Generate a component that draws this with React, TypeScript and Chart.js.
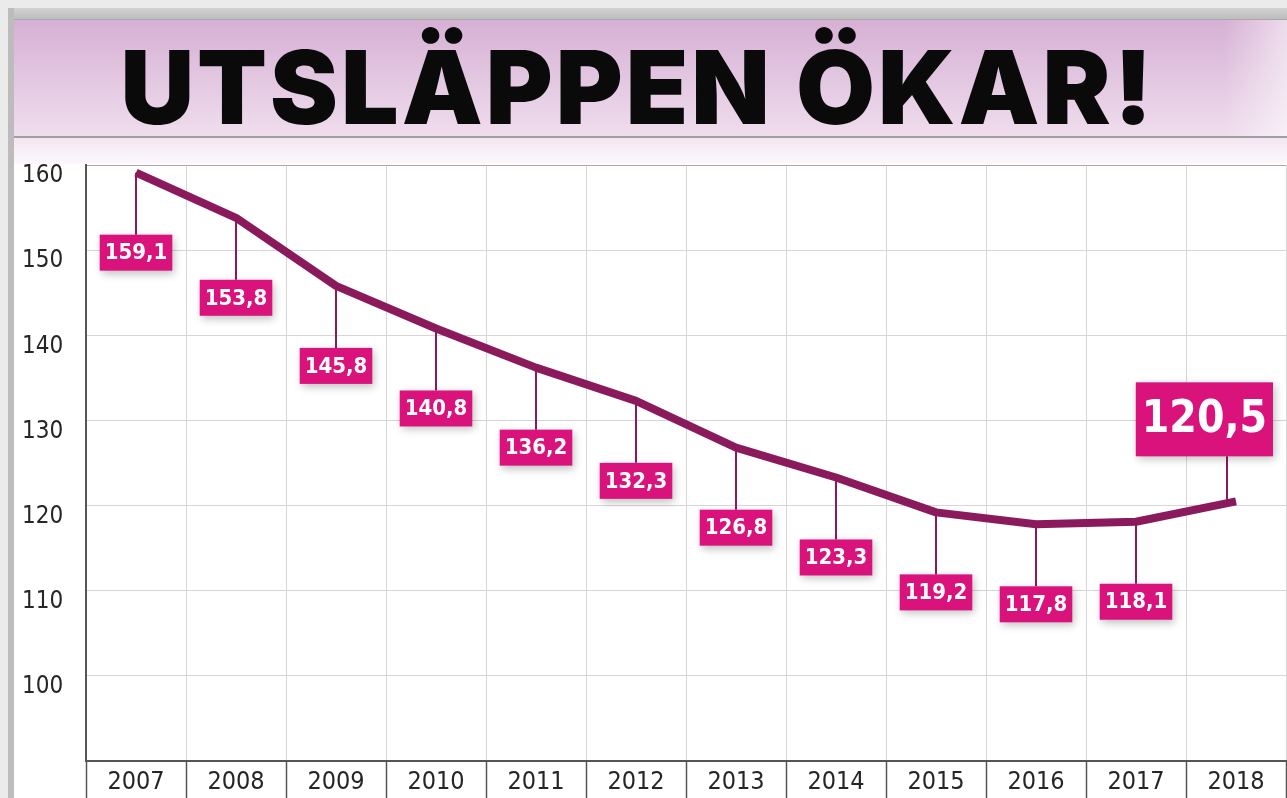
import React, { useEffect, useRef } from "react";
import { Chart, registerables } from "chart.js";

Chart.register(...registerables);

const TITLE = "UTSLÄPPEN ÖKAR!";
const years = ["2007", "2008", "2009", "2010", "2011", "2012", "2013", "2014", "2015", "2016", "2017", "2018"];
const emissions = [159.1, 153.8, 145.8, 140.8, 136.2, 132.3, 126.8, 123.3, 119.2, 117.8, 118.1, 120.5];
const valueLabels = ["159,1", "153,8", "145,8", "140,8", "136,2", "132,3", "126,8", "123,3", "119,2", "117,8", "118,1", "120,5"];
const yMin = 90;
const yMax = 160;
const yStep = 10;

const LINE_COLOR = "#8b1a5c";
const BOX_COLOR = "#d9127c";
const FONT = "'DejaVu Sans Condensed', 'DejaVu Sans', sans-serif";

const labelPlugin = {
  id: "valueBoxes",
  afterDatasetsDraw(chart: any) {
    const ctx = chart.ctx;
    const meta = chart.getDatasetMeta(0);
    const area = chart.chartArea;
    const last = meta.data.length - 1;
    meta.data.forEach((pt: any, i: number) => {
      const px = pt.x;
      const py = pt.y;
      const big = i === last;
      ctx.save();
      ctx.font = big ? `bold 44px ${FONT}` : `bold 22px ${FONT}`;
      const text = valueLabels[i];
      const tw = ctx.measureText(text).width;
      const bw = tw + (big ? 12 : 10);
      const bh = big ? 74 : 36;
      let bx = px - bw / 2;
      let by: number;
      if (big) {
        by = py - 45 - bh;
        if (bx + bw > area.right - 13) bx = area.right - 13 - bw;
      } else {
        by = py + 80 - bh / 2;
      }
      ctx.strokeStyle = LINE_COLOR;
      ctx.lineWidth = 2;
      ctx.beginPath();
      if (big) {
        ctx.moveTo(px - 9, by + bh);
        ctx.lineTo(px - 9, py);
      } else {
        ctx.moveTo(px, py);
        ctx.lineTo(px, by);
      }
      ctx.stroke();
      ctx.shadowColor = "rgba(0,0,0,0.25)";
      ctx.shadowBlur = 8;
      ctx.shadowOffsetX = 2;
      ctx.shadowOffsetY = 3;
      ctx.fillStyle = BOX_COLOR;
      ctx.fillRect(bx, by, bw, bh);
      ctx.shadowColor = "transparent";
      ctx.fillStyle = "#ffffff";
      ctx.textAlign = "center";
      ctx.textBaseline = "middle";
      ctx.fillText(text, bx + bw / 2, by + bh / 2 + 1);
      ctx.restore();
    });
  },
};

function ChartCanvas() {
  const ref = useRef<HTMLCanvasElement | null>(null);
  useEffect(() => {
    if (!ref.current) return;
    const chart = new Chart(ref.current, {
      type: "line",
      data: {
        labels: years,
        datasets: [
          {
            data: emissions,
            borderColor: LINE_COLOR,
            borderWidth: 8,
            tension: 0,
            pointRadius: 0,
            borderJoinStyle: "round",
            fill: false,
          },
        ],
      },
      options: {
        animation: false,
        responsive: false,
        maintainAspectRatio: false,
        layout: { padding: { top: 25, left: 10, right: 1, bottom: 0 } },
        plugins: { legend: { display: false }, tooltip: { enabled: false } },
        scales: {
          x: {
            offset: true,
            grid: {
              offset: true,
              color: "#d6d6d6",
              lineWidth: 1,
              drawTicks: true,
              tickLength: 37,
              tickColor: "#555555",
              tickWidth: 1.5,
            },
            border: { color: "#555555", width: 2 },
            ticks: {
              color: "#262626",
              font: { family: FONT, size: 25 },
              padding: -31,
              maxRotation: 0,
              autoSkip: false,
            },
            afterFit: (s: any) => {
              s.height = 37;
            },
          },
          y: {
            min: yMin,
            max: yMax,
            grid: {
              color: (c: any) => (c.tick && c.tick.value === yMax ? "#a8a8a8" : "#d6d6d6"),
              drawTicks: false,
            },
            border: { color: "#555555", width: 2 },
            ticks: {
              stepSize: yStep,
              color: "#262626",
              font: { family: FONT, size: 24 },
              crossAlign: "far",
              labelOffset: 11,
              padding: 0,
              callback: (v: any) => (v === yMin ? "" : String(v)),
            },
            afterFit: (s: any) => {
              s.width = 64;
            },
          },
        },
      },
      plugins: [labelPlugin],
    });
    return () => chart.destroy();
  }, []);
  return <canvas ref={ref} width={1275} height={658} style={{ display: "block", width: 1275, height: 658 }} />;
}

export default function App() {
  return (
    <div style={{ position: "fixed", left: 0, top: 0, width: 1287, height: 798, overflow: "hidden", background: "#ebebeb" }}>
      <div style={{ position: "absolute", left: 8, top: 8, right: 0, height: 11, background: "linear-gradient(#d2d2d2, #bdbdbd)" }} />
      <div style={{ position: "absolute", left: 8, top: 8, width: 6, bottom: 0, background: "#bcbcbc" }} />
      <div style={{ position: "absolute", left: 14, top: 19, right: 0, bottom: 0, background: "#ffffff" }} />
      <div
        style={{
          position: "absolute",
          left: 14,
          top: 19,
          right: 0,
          height: 119,
          background: "linear-gradient(#d6b0d4, #efdded)",
          borderTop: "1px solid #a8a8a8",
          borderBottom: "2px solid #a0a0a0",
          boxSizing: "border-box",
        }}
      >
        <div
          style={{
            position: "absolute",
            left: 0,
            right: 0,
            top: 0,
            bottom: 0,
            background: "linear-gradient(90deg, rgba(255,255,255,0) 95%, rgba(255,255,255,0.55) 100%)",
          }}
        />
        <div
          style={{
            position: "absolute",
            left: 0,
            width: 1248,
            top: 8,
            textAlign: "center",
            fontFamily: "Inter, 'DejaVu Sans', sans-serif",
            fontWeight: 900,
            fontSize: 102,
            lineHeight: "118px",
            letterSpacing: "3px",
            color: "#0a0a0a",
            whiteSpace: "nowrap",
          }}
        >
          {TITLE}
        </div>
      </div>
      <div
        style={{
          position: "absolute",
          left: 14,
          top: 138,
          right: 0,
          height: 26,
          background: "linear-gradient(#f3e6f2, #fcf8fc)",
        }}
      />
      <div style={{ position: "absolute", left: 12, top: 140 }}>
        <ChartCanvas />
      </div>
    </div>
  );
}
